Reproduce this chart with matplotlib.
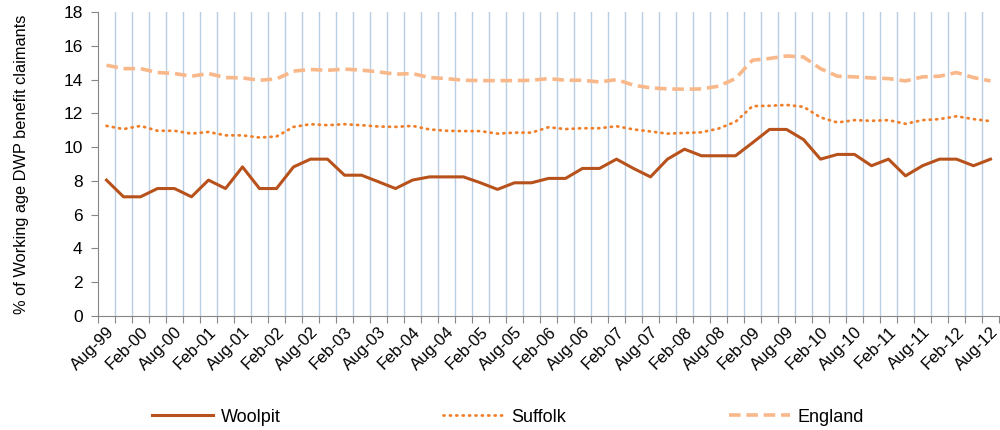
import matplotlib.pyplot as plt
import numpy as np

plt.rcParams['font.family'] = ['Liberation Sans', 'DejaVu Sans']

# quarterly points Aug-99 .. Aug-12, labels every second quarter
quarters = ['Aug-99', 'Nov-99', 'Feb-00', 'May-00', 'Aug-00', 'Nov-00', 'Feb-01', 'May-01',
            'Aug-01', 'Nov-01', 'Feb-02', 'May-02', 'Aug-02', 'Nov-02', 'Feb-03', 'May-03',
            'Aug-03', 'Nov-03', 'Feb-04', 'May-04', 'Aug-04', 'Nov-04', 'Feb-05', 'May-05',
            'Aug-05', 'Nov-05', 'Feb-06', 'May-06', 'Aug-06', 'Nov-06', 'Feb-07', 'May-07',
            'Aug-07', 'Nov-07', 'Feb-08', 'May-08', 'Aug-08', 'Nov-08', 'Feb-09', 'May-09',
            'Aug-09', 'Nov-09', 'Feb-10', 'May-10', 'Aug-10', 'Nov-10', 'Feb-11', 'May-11',
            'Aug-11', 'Nov-11', 'Feb-12', 'May-12', 'Aug-12']

woolpit = [8.05, 7.06, 7.06, 7.55, 7.55, 7.06, 8.05, 7.55, 8.83, 7.55, 7.55, 8.83, 9.29,
           9.29, 8.34, 8.34, 7.95, 7.55, 8.05, 8.24, 8.24, 8.24, 7.89, 7.50, 7.89, 7.89,
           8.15, 8.15, 8.74, 8.74, 9.29, 8.74, 8.24, 9.29, 9.88, 9.49, 9.49, 9.49, 10.26,
           11.05, 11.05, 10.45, 9.29, 9.57, 9.57, 8.90, 9.29, 8.30, 8.90, 9.29, 9.29, 8.90,
           9.29]

suffolk = [11.26, 11.07, 11.26, 10.97, 10.97, 10.80, 10.90, 10.70, 10.70, 10.57, 10.63,
           11.20, 11.36, 11.30, 11.36, 11.30, 11.22, 11.20, 11.26, 11.05, 10.97, 10.95,
           10.95, 10.80, 10.86, 10.86, 11.18, 11.07, 11.12, 11.12, 11.24, 11.05, 10.93,
           10.80, 10.84, 10.88, 11.10, 11.50, 12.43, 12.45, 12.50, 12.39, 11.76, 11.46,
           11.60, 11.56, 11.60, 11.38, 11.60, 11.66, 11.83, 11.66, 11.54]

england = [14.85, 14.65, 14.65, 14.42, 14.36, 14.20, 14.36, 14.12, 14.10, 13.96, 14.04,
           14.50, 14.60, 14.55, 14.62, 14.56, 14.46, 14.32, 14.36, 14.12, 14.06, 13.96,
           13.94, 13.94, 13.94, 13.96, 14.06, 13.96, 13.96, 13.86, 14.00, 13.67, 13.51,
           13.45, 13.43, 13.45, 13.61, 14.06, 15.15, 15.25, 15.40, 15.34, 14.65, 14.20,
           14.16, 14.10, 14.06, 13.92, 14.16, 14.20, 14.42, 14.12, 13.92]

x = np.arange(len(quarters))

fig = plt.figure(figsize=(10, 4.3), dpi=100)
ax = fig.add_axes([0.098, 0.265, 0.901, 0.707])

# vertical gridlines at category boundaries (Excel style)
for b in range(1, len(quarters)):
    ax.axvline(b - 0.5, color='#b9cde5', linewidth=1, zorder=0)

ax.plot(x, woolpit, '-', color='#b8521c', linewidth=2.2, label='Woolpit')
ax.plot(x, suffolk, color='#f07f2a', linewidth=2.0, linestyle=(0, (0.4, 1.9)),
        dash_capstyle='round', label='Suffolk')
ax.plot(x, england, color='#f9b88a', linewidth=2.6, linestyle=(0, (3.2, 1.6)), label='England')

ax.set_xlim(-0.5, len(quarters) - 0.5)
ax.set_ylim(0, 18)
ax.set_yticks(np.arange(0, 19, 2))
ax.set_xticks(np.arange(-0.5, len(quarters), 1), minor=False)
ax.set_xticklabels([])
ax.set_xticks(x[::2], minor=True)
ax.set_xticklabels(quarters[::2], minor=True, rotation=45, ha='right',
                   rotation_mode='anchor', fontsize=12)
ax.tick_params(axis='x', which='major', length=5, color='#868686', direction='out')
ax.tick_params(axis='x', which='minor', length=0, pad=6)
ax.tick_params(axis='y', length=5, color='#868686', labelsize=12.5, pad=6)

ax.set_ylabel('% of Working age DWP benefit claimants', fontsize=11.8, labelpad=25)

for s in ['top', 'right']:
    ax.spines[s].set_visible(False)
for s in ['left', 'bottom']:
    ax.spines[s].set_color('#868686')

fig.legend(loc='center', bbox_to_anchor=(0.508, 0.03), ncol=3, frameon=False,
           fontsize=13, handlelength=3.4, handletextpad=0.4, columnspacing=9.0)

fig.savefig('out.png', dpi=100)
